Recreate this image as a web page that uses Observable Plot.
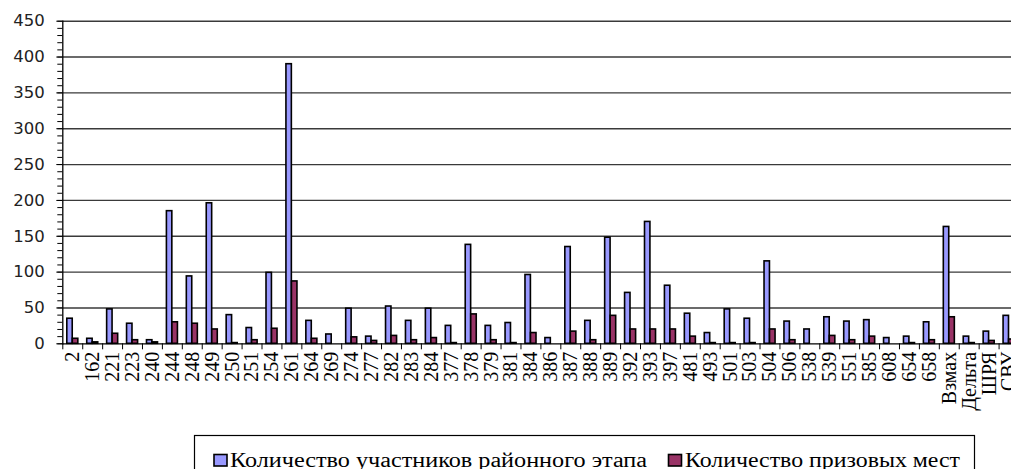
<!DOCTYPE html>
<html>
<head>
<meta charset="utf-8">
<script src="https://cdn.jsdelivr.net/npm/d3@7"></script>
<script src="https://cdn.jsdelivr.net/npm/@observablehq/plot@0.6"></script>
<style>
  html, body { margin: 0; padding: 0; background: #fff; overflow: hidden; width: 1011px; height: 469px; }
  #chart { position: absolute; left: 0; top: 0; }
  #legend { position: absolute; left: 0; top: 432px; }
</style>
</head>
<body>
<div id="chart"></div>
<div id="legend"></div>
<script>
const categories = ["2","162","221","223","240","244","248","249","250","251","254","261","264","269","274","277","282","283","284","377","378","379","381","384","386","387","388","389","392","393","397","481","493","501","503","504","506","538","539","551","585","608","654","658","Взмах","Дельта","ШРЯ","СВУ"];
const participants = [35,7,48,28,5,185,94,196,40,22,99,390,32,13,49,10,52,32,49,25,138,25,29,96,8,135,32,148,71,170,81,42,15,48,35,115,31,20,37,31,33,8,10,30,163,10,17,39];
const prizes = [7,2,14,5,2,30,28,20,1,5,21,87,7,0,9,4,11,5,8,1,41,5,1,15,0,17,5,39,20,20,20,10,1,1,1,20,5,0,11,5,10,0,1,5,37,1,4,6];
const seriesNames = ["Количество участников районного этапа", "Количество призовых мест"];
const seriesColors = ["#9999FF", "#993366"];
const yTicks = [0,50,100,150,200,250,300,350,400,450];
const yMinorTicks = d3.range(0, 451, 10);

const table = categories.map((c, i) => ({cat: c, p: participants[i], w: prizes[i]}));

const x0 = 62.3, x1 = 1018.5;
const bw = (x1 - x0) / categories.length;
const yBase = 343.3, yTop = 20.7, H = 432;

const chart = Plot.plot({
  width: 1011,
  height: H,
  marginLeft: x0,
  marginRight: 0,
  marginTop: yTop,
  marginBottom: H - yBase,
  style: {background: "#fff", color: "#000", overflow: "visible"},
  x: {domain: categories, range: [x0, x1], padding: 0, axis: null},
  y: {domain: [0, 450], range: [yBase, yTop], axis: null},
  marks: [
    Plot.ruleY(yTicks.slice(1), {stroke: "#3a3a3a", strokeWidth: 1.4}),
    Plot.barY(table, {x: "cat", y: "p", fill: seriesColors[0], stroke: "#000", strokeWidth: 1.6, insetLeft: 4.5, insetRight: 10}),
    Plot.barY(table, {x: "cat", y: "w", fill: seriesColors[1], stroke: "#000", strokeWidth: 1.6, insetLeft: 10, insetRight: 4.4}),
    Plot.ruleY([0], {stroke: "#000", strokeWidth: 1.3}),
    Plot.frame({anchor: "left", stroke: "#000", strokeWidth: 1.3}),
    Plot.axisY({ticks: yMinorTicks, tickSize: 5, tickFormat: () => "", stroke: "#000", label: null}),
    Plot.axisY({ticks: yTicks, tickSize: 6, tickPadding: 12, fontSize: 16.5, fontFamily: "DejaVu Sans", stroke: "#000", fill: "#222", label: null}),
    Plot.axisX({tickSize: 6, tickFormat: () => "", dx: -bw / 2, stroke: "#000", label: null}),
    Plot.axisX({tickSize: 0, tickPadding: 8, tickRotate: -90, fontSize: 20, fontFamily: "Liberation Serif", fill: "#000", label: null})
  ]
});
document.getElementById("chart").appendChild(chart);

// Legend below the chart (separate small SVG)
const ns = "http://www.w3.org/2000/svg";
const lg = document.createElementNS(ns, "svg");
lg.setAttribute("width", 1011);
lg.setAttribute("height", 37);
const box = document.createElementNS(ns, "rect");
box.setAttribute("x", 194.5); box.setAttribute("y", 3.5);
box.setAttribute("width", 780); box.setAttribute("height", 45);
box.setAttribute("fill", "none"); box.setAttribute("stroke", "#000"); box.setAttribute("stroke-width", 1.2);
lg.appendChild(box);
const items = [
  {sx: 214, tx: 230, tw: 417},
  {sx: 668.5, tx: 685, tw: 275}
];
seriesNames.forEach((name, i) => {
  const sw = document.createElementNS(ns, "rect");
  sw.setAttribute("x", items[i].sx); sw.setAttribute("y", 22.5);
  sw.setAttribute("width", 13); sw.setAttribute("height", 11.5);
  sw.setAttribute("fill", seriesColors[i]); sw.setAttribute("stroke", "#000"); sw.setAttribute("stroke-width", 1.6);
  lg.appendChild(sw);
  const t = document.createElementNS(ns, "text");
  t.setAttribute("x", items[i].tx); t.setAttribute("y", 34.7);
  t.setAttribute("font-family", "Liberation Serif"); t.setAttribute("font-size", 20);
  t.setAttribute("textLength", items[i].tw); t.setAttribute("lengthAdjust", "spacingAndGlyphs");
  t.setAttribute("fill", "#000");
  t.textContent = name;
  lg.appendChild(t);
});
document.getElementById("legend").appendChild(lg);
</script>
</body>
</html>
